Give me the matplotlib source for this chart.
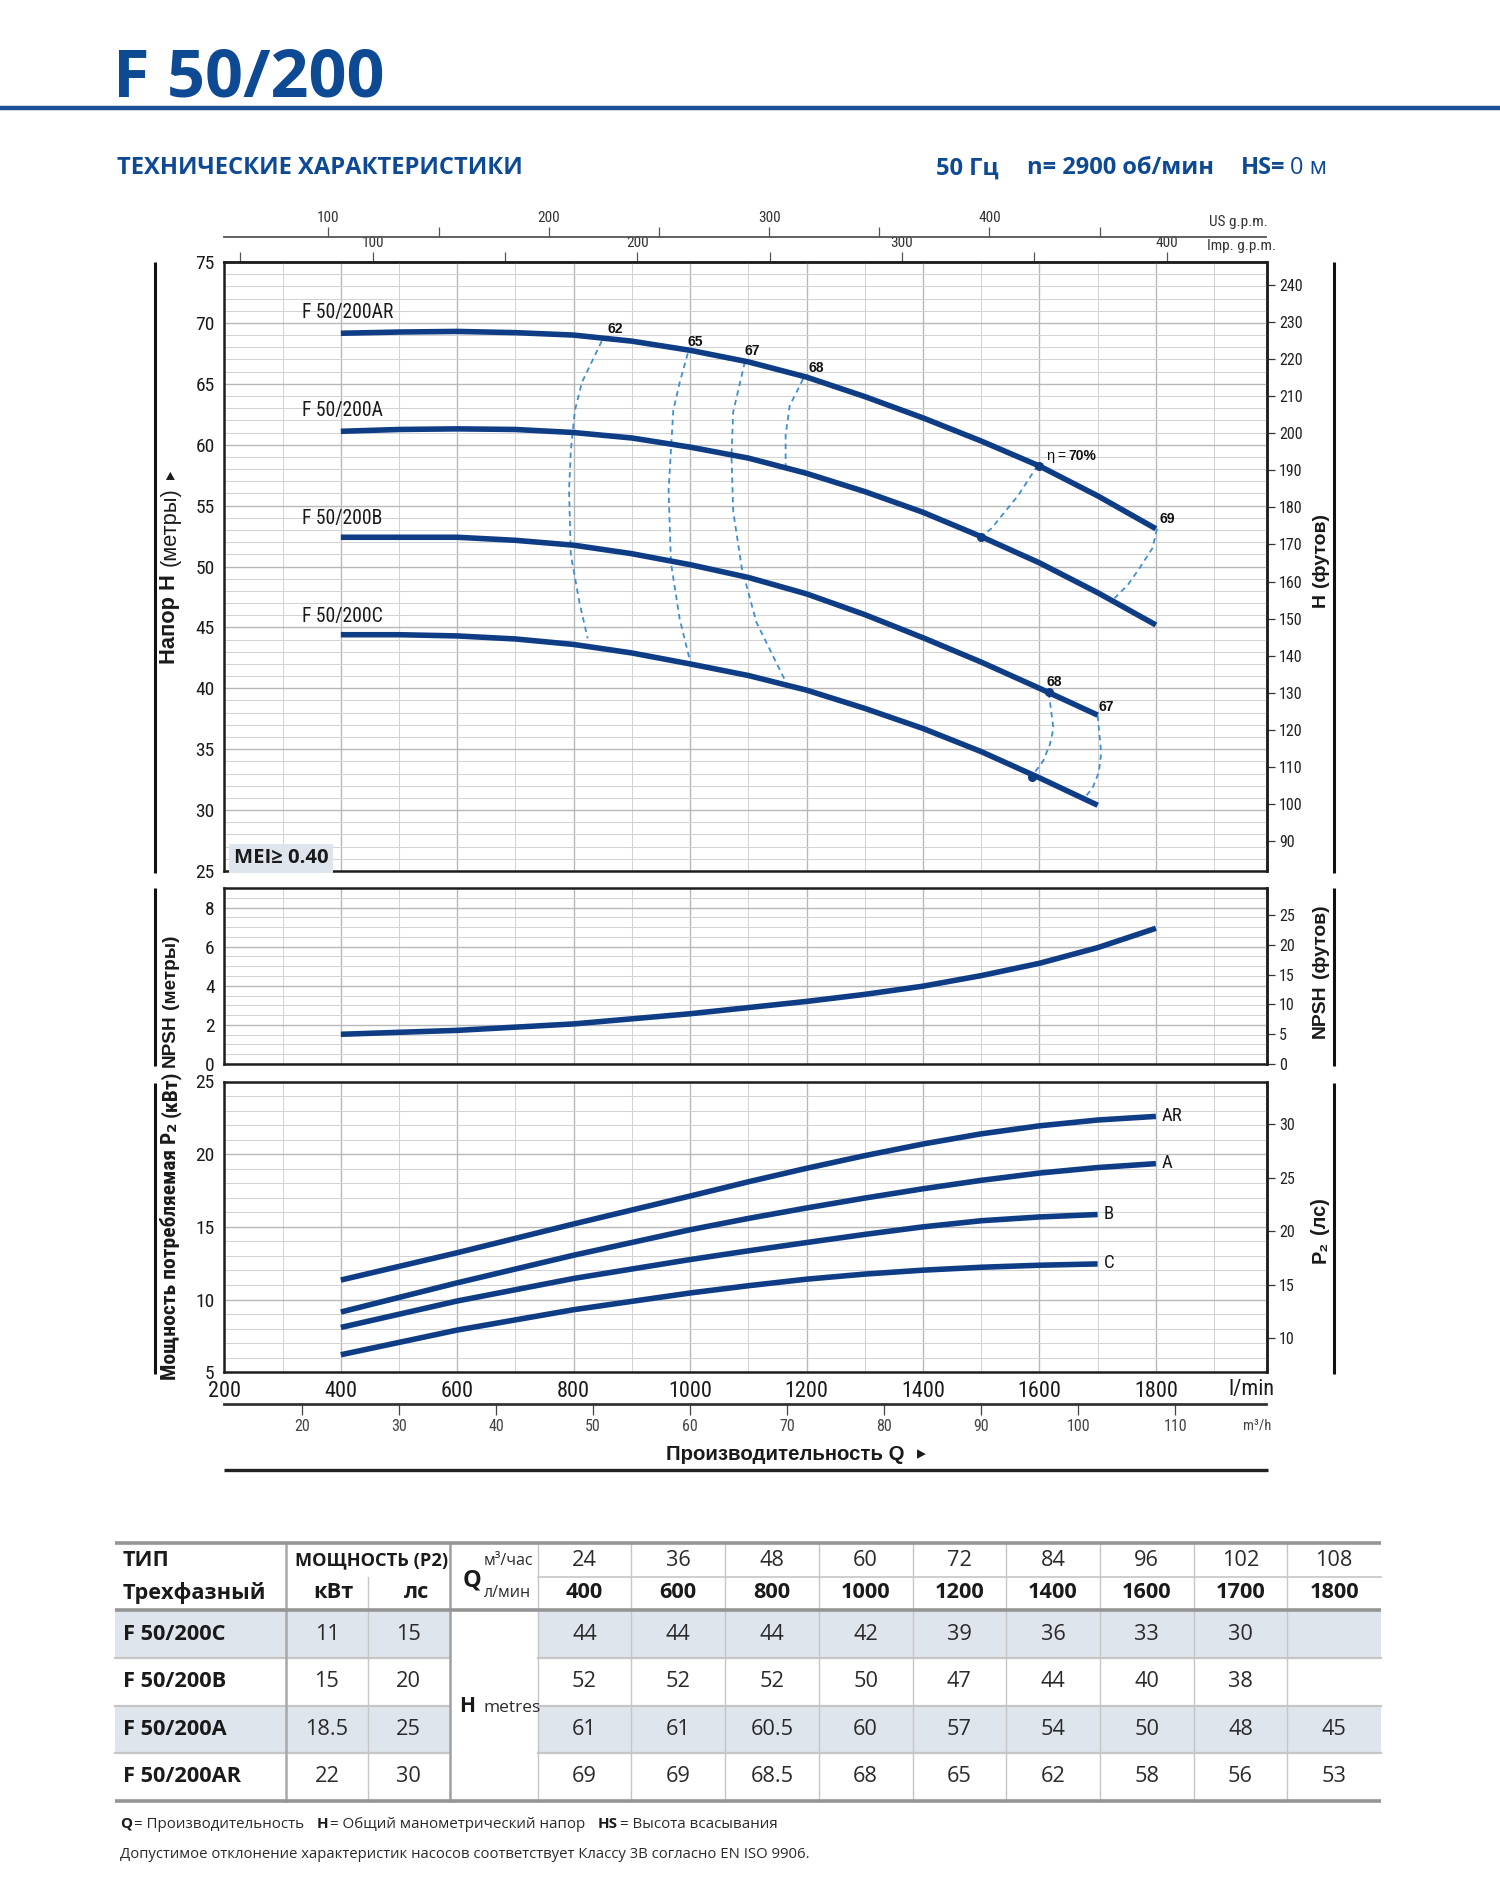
import os
import matplotlib
matplotlib.use("Agg")
import matplotlib.pyplot as plt
from matplotlib import font_manager as fm
from matplotlib.ticker import MultipleLocator, FixedLocator
from matplotlib.patches import Rectangle

# ---------------- data ----------------
q_head = [400, 500, 600, 700, 800, 900, 1000, 1100, 1200, 1300, 1400, 1500, 1600, 1700, 1800]
head_ar = [69.15, 69.25, 69.3, 69.2, 69.0, 68.5, 67.75, 66.8, 65.55, 63.95, 62.2, 60.3, 58.25, 55.8, 53.1]
head_a = [61.1, 61.25, 61.3, 61.25, 61.0, 60.55, 59.8, 58.9, 57.65, 56.15, 54.45, 52.45, 50.3, 47.85, 45.2]
q_head_bc = [400, 500, 600, 700, 800, 900, 1000, 1100, 1200, 1300, 1400, 1500, 1600, 1700]
head_b = [52.4, 52.4, 52.4, 52.15, 51.75, 51.05, 50.15, 49.1, 47.75, 46.05, 44.15, 42.15, 40.0, 37.8]
head_c = [44.4, 44.4, 44.3, 44.05, 43.6, 42.9, 42.0, 41.05, 39.85, 38.35, 36.7, 34.8, 32.65, 30.4]
curve_names = ["F 50/200AR", "F 50/200A", "F 50/200B", "F 50/200C"]
curve_name_h = [70.85, 62.8, 53.9, 45.9]

# iso-efficiency lines (Q l/min, H m)
eff62_q = [848, 814, 802, 795, 792, 795, 810, 824]
eff62_h = [68.5, 65.1, 62.8, 59.5, 56.25, 51.0, 47.0, 44.1]
eff65_q = [996, 982, 971, 963, 967, 982, 999]
eff65_h = [67.5, 65.1, 62.8, 56.25, 50.3, 45.7, 42.4]
eff67_q = [1094, 1074, 1071, 1074, 1089, 1114, 1163]
eff67_h = [66.8, 62.7, 59.1, 54.5, 49.8, 45.4, 40.65]
eff68_q = [1194, 1171, 1164, 1164]
eff68_h = [65.4, 63.2, 60.8, 58.2]
eff70_q = [1597, 1563, 1517, 1500]
eff70_h = [58.3, 55.8, 53.1, 52.45]
eff69_q = [1802, 1794, 1771, 1752, 1729]
eff69_h = [53.1, 51.5, 49.8, 48.5, 47.4]
eff68b_q = [1616, 1624, 1618, 1606, 1587]
eff68b_h = [39.64, 36.7, 35.4, 34.0, 32.8]
eff67b_q = [1700, 1706, 1702, 1691, 1679]
eff67b_h = [37.76, 34.7, 33.1, 31.8, 31.1]
mark_q = [1600, 1500, 1616, 1588]
mark_h = [58.25, 52.45, 39.7, 32.75]
eff_labels = ["62", "65", "67", "68", "68", "67"]
eff_label_q = [871, 1008, 1107, 1217, 1626, 1714]
eff_label_h = [69.5, 68.45, 67.67, 66.3, 40.5, 38.5]

q_npsh = [400, 600, 800, 1000, 1200, 1300, 1400, 1500, 1600, 1700, 1800]
npsh_m = [1.52, 1.72, 2.05, 2.57, 3.2, 3.56, 3.98, 4.52, 5.15, 5.95, 6.94]

q_pow = [400, 600, 800, 1000, 1100, 1200, 1300, 1400, 1500, 1600, 1700, 1800]
pow_ar = [11.34, 13.22, 15.2, 17.12, 18.1, 19.03, 19.9, 20.7, 21.4, 21.95, 22.35, 22.6]
pow_a = [9.14, 11.15, 13.05, 14.8, 15.58, 16.3, 16.98, 17.62, 18.2, 18.7, 19.08, 19.35]
q_pow_bc = [400, 600, 800, 1000, 1100, 1200, 1300, 1400, 1500, 1600, 1700]
pow_b = [8.08, 9.9, 11.45, 12.75, 13.35, 13.92, 14.48, 15.0, 15.42, 15.68, 15.85]
pow_c = [6.2, 7.9, 9.3, 10.45, 10.95, 11.4, 11.75, 12.02, 12.22, 12.36, 12.45]
pow_names = ["AR", "A", "B", "C"]

ft_ticks_h = [90, 100, 110, 120, 130, 140, 150, 160, 170, 180, 190, 200, 210, 220, 230, 240]
ft_ticks_npsh = [0, 5, 10, 15, 20, 25]
hp_ticks = [10, 15, 20, 25, 30]
us_major = [100, 200, 300, 400]
us_minor = [150, 250, 350, 450]
imp_major = [100, 200, 300, 400]
imp_minor = [50, 150, 250, 350]
m3h_ticks = [20, 30, 40, 50, 60, 70, 80, 90, 100, 110]

tbl_m3h = ["24", "36", "48", "60", "72", "84", "96", "102", "108"]
tbl_lpm = ["400", "600", "800", "1000", "1200", "1400", "1600", "1700", "1800"]
tbl_types = ["F 50/200C", "F 50/200B", "F 50/200A", "F 50/200AR"]
tbl_kw = ["11", "15", "18.5", "22"]
tbl_hp = ["15", "20", "25", "30"]
tbl_h = [
    ["44", "44", "44", "42", "39", "36", "33", "30", ""],
    ["52", "52", "52", "50", "47", "44", "40", "38", ""],
    ["61", "61", "60.5", "60", "57", "54", "50", "48", "45"],
    ["69", "69", "68.5", "68", "65", "62", "58", "56", "53"],
]


# ---------------- fonts ----------------
def find_condensed():
    prefs = ["Liberation Sans Narrow", "Roboto Condensed", "Open Sans Condensed", "Noto Sans Condensed",
             "Noto Sans", "DejaVu Sans", "Open Sans", "Roboto", "Inter", "Lato"]
    ents = [e for e in fm.fontManager.ttflist if e.style == "normal"]

    def cond(e):
        b = os.path.basename(e.fname).lower()
        n = e.name.lower()
        return ("narrow" in b or "condensed" in b or "narrow" in n or "condensed" in n
                or str(e.stretch) in ("condensed", "semi-condensed"))
    for p in prefs:
        es = [e for e in ents if e.name == p and cond(e)]
        es = [e for e in es if "extra" not in os.path.basename(e.fname).lower()
              and "ultra" not in os.path.basename(e.fname).lower()] or es
        if es:
            return p, str(es[0].stretch)
    return "Liberation Sans", "normal"


CNAME, CSTRETCH = find_condensed()
NARROW = [CNAME, "DejaVu Sans"]
plt.rcParams["font.family"] = NARROW
plt.rcParams["font.stretch"] = CSTRETCH
SANS = dict(family=["Liberation Sans", "DejaVu Sans"], stretch="normal")
OPEN = dict(family=["Open Sans", "DejaVu Sans"], stretch="normal")
COND = dict(family=NARROW, stretch=CSTRETCH)

TITLE = "#0d4a93"
CURVE = "#0e3d86"
DASH = "#3f8fd2"
GMIN = "#d3d3d3"
GMAJ = "#b8b8b8"
SPINE = "#1e1e1e"
SHADE = "#dfe5ec"
LW = 4.0

W, H = 1500, 1888
fig = plt.figure(figsize=(W / 100, H / 100), dpi=100)
fig.patch.set_facecolor("white")

# overlay axes in pixel coordinates (created first for measuring)
ov = fig.add_axes([0, 0, 1, 1])
ov.set_xlim(0, W)
ov.set_ylim(H, 0)
ov.axis("off")
ov.set_zorder(10)
ov.patch.set_visible(False)
R = fig.canvas.get_renderer()


def measure(s, **kw):
    t = ov.text(0, 0, s, **kw)
    w = t.get_window_extent(renderer=R).width
    t.remove()
    return w


def fitsize(s, kw, target, lo=0.6, hi=1.6):
    f = target / measure(s, **kw)
    f = max(lo, min(hi, f))
    return kw["size"] * f


def rich(x, y, parts, anchor="left", rot=0, va="center", target=None):
    if target is not None:
        tot0 = sum(measure(t, **kw) for t, kw, g in parts) + sum(g for _, _, g in parts[:-1])
        f = target / tot0
        parts = [(t, dict(kw, size=kw["size"] * f), g * f) for t, kw, g in parts]
    widths = [measure(t, **kw) for t, kw, g in parts]
    total = sum(widths) + sum(g for _, _, g in parts[:-1])
    fa = {"left": 0.0, "center": 0.5, "right": 1.0}[anchor]
    off = 0.0
    for (t, kw, g), w in zip(parts, widths):
        if rot == 0:
            ov.text(x - total * fa + off, y, t, ha="left", va=va, **kw)
        else:
            ov.text(x, y + total * fa - off, t, ha="left", va="center", rotation=90,
                    rotation_mode="anchor", **kw)
        off += w + g


TICK_L = 14
TICK_B = 16
TICK_S = 11.5
TICK_T = 11

X0, X1 = 224.4, 1266.5


def rect(top, bottom):
    return [X0 / W, 1 - bottom / H, (X1 - X0) / W, (bottom - top) / H]


def base_axes(top, bottom, ylim, ymaj, ymin):
    ax = fig.add_axes(rect(top, bottom))
    ax.set_xlim(200, 1990)
    ax.set_ylim(*ylim)
    ax.xaxis.set_major_locator(MultipleLocator(200))
    ax.xaxis.set_minor_locator(MultipleLocator(100))
    ax.yaxis.set_major_locator(MultipleLocator(ymaj))
    ax.yaxis.set_minor_locator(MultipleLocator(ymin))
    ax.grid(which="major", color=GMAJ, lw=1.0)
    ax.grid(which="minor", color=GMIN, lw=0.75)
    ax.set_axisbelow(True)
    ax.tick_params(which="both", length=0)
    ax.tick_params(axis="y", labelsize=TICK_L, pad=7, labelcolor="#1a1a1a")
    for s in ax.spines.values():
        s.set_linewidth(1.8)
        s.set_color(SPINE)
    return ax


def right_axis(ax, fwd, inv, ticks):
    sec = ax.secondary_yaxis("right", functions=(fwd, inv))
    sec.yaxis.set_major_locator(FixedLocator(ticks))
    sec.tick_params(length=6, width=0.9, color="#333", labelsize=TICK_S, pad=3, labelcolor="#222")
    sec.spines["right"].set_linewidth(1.8)
    sec.spines["right"].set_color(SPINE)
    return sec


# ---- head chart ----
ax_h = base_axes(262, 871, (25, 75), 5, 1)
ax_h.tick_params(axis="x", labelbottom=False)
for qq, hh in [(eff62_q, eff62_h), (eff65_q, eff65_h), (eff67_q, eff67_h), (eff68_q, eff68_h),
               (eff70_q, eff70_h), (eff69_q, eff69_h), (eff68b_q, eff68b_h), (eff67b_q, eff67b_h)]:
    ax_h.plot(qq, hh, color=DASH, lw=1.3, ls=(0, (3, 2.4)), zorder=2)
for qq, hh in [(q_head, head_ar), (q_head, head_a), (q_head_bc, head_b), (q_head_bc, head_c)]:
    ax_h.plot(qq, hh, color=CURVE, lw=LW, solid_capstyle="butt", solid_joinstyle="round", zorder=3)
ax_h.plot(mark_q, mark_h, "o", ms=5.5, color=CURVE, zorder=4)
name_size = fitsize("F 50/200AR", dict(COND, size=14), 92, 0.95, 1.1)
for name, hh in zip(curve_names, curve_name_h):
    ax_h.text(334, hh, name, size=name_size, color="#1a1a1a", ha="left", va="center", **COND)
for lab, qq, hh in zip(eff_labels, eff_label_q, eff_label_h):
    ax_h.text(qq, hh, lab, weight="bold", size=10, color="#111", ha="center", va="center", **SANS)
ax_h.text(1806, 53.9, "69", weight="bold", size=10, color="#111", ha="left", va="center", **SANS)
mei_size = fitsize("MEI≥ 0.40", dict(OPEN, weight="bold", size=14), 95)
ax_h.text(216, 26.05, "MEI≥ 0.40", weight="bold", size=mei_size, color="#1a1a1a",
          ha="left", va="center", bbox=dict(boxstyle="square,pad=0.22", fc=SHADE, ec="none"), **OPEN)

right_axis(ax_h, lambda m: m / 0.3048, lambda f: f * 0.3048, ft_ticks_h)

imp = ax_h.secondary_xaxis("top", functions=(lambda q: q / 4.54609, lambda g: g * 4.54609))
imp.xaxis.set_major_locator(FixedLocator(imp_major))
imp.xaxis.set_minor_locator(FixedLocator(imp_minor))
imp.tick_params(which="both", direction="out", length=7, width=0.9, color="#555",
                labelsize=TICK_T, pad=1.5, labelcolor="#333")
imp.spines["top"].set_linewidth(1.8)
imp.spines["top"].set_color(SPINE)

us = ax_h.secondary_xaxis(1.041, functions=(lambda q: q / 3.785411784, lambda g: g * 3.785411784))
us.xaxis.set_major_locator(FixedLocator(us_major))
us.xaxis.set_minor_locator(FixedLocator(us_minor))
us.tick_params(which="both", direction="out", length=7, width=0.9, color="#555",
               labelsize=TICK_T, pad=1.5, labelcolor="#333")
us.spines["top"].set_linewidth(1.3)
us.spines["top"].set_color("#555")

# ---- NPSH chart ----
ax_n = base_axes(888, 1064, (0, 9), 2, 0.5)
ax_n.tick_params(axis="x", labelbottom=False)
ax_n.plot(q_npsh, npsh_m, color=CURVE, lw=LW, solid_capstyle="butt", solid_joinstyle="round", zorder=3)
right_axis(ax_n, lambda m: m / 0.3048, lambda f: f * 0.3048, ft_ticks_npsh)

# ---- power chart ----
ax_p = base_axes(1081.5, 1372.2, (5, 25), 5, 1)
ax_p.tick_params(axis="x", labelsize=TICK_B, pad=6, labelcolor="#1a1a1a")
for qq, pp in [(q_pow, pow_ar), (q_pow, pow_a), (q_pow_bc, pow_b), (q_pow_bc, pow_c)]:
    ax_p.plot(qq, pp, color=CURVE, lw=LW, solid_capstyle="butt", solid_joinstyle="round", zorder=3)
for name, qq, pp in zip(pow_names, [q_pow, q_pow, q_pow_bc, q_pow_bc], [pow_ar, pow_a, pow_b, pow_c]):
    ax_p.text(qq[-1] + 10, pp[-1] + 0.05, name, size=13.5, color="#1a1a1a", ha="left", va="center")
right_axis(ax_p, lambda k: k / 0.7355, lambda hp: hp * 0.7355, hp_ticks)

m3 = ax_p.secondary_xaxis(-0.1094, functions=(lambda q: q * 0.06, lambda m: m / 0.06))
m3.xaxis.set_major_locator(FixedLocator(m3h_ticks))
m3.tick_params(direction="out", length=8, width=0.9, color="#444", labelsize=11.5, pad=3, labelcolor="#444")
m3.spines["bottom"].set_linewidth(2.0)
m3.spines["bottom"].set_color("#333")


def to_px(ax, x, y):
    d = ax.transData.transform((x, y))
    return ov.transData.inverted().transform(d)


# η = 70% label
ex, ey = to_px(ax_h, 1611, 59.05)
rich(ex, ey, [("η", dict(SANS, size=10.5, color="#111"), 3), ("=", dict(SANS, size=10, color="#111"), 3),
              ("70%", dict(SANS, weight="bold", size=10, color="#111"), 0)])

# ---------------- header ----------------
ov.text(113, 96.5, "F 50/200", weight="bold", size=48, color=TITLE, va="baseline", **OPEN)
ov.plot([0, W], [108, 108], color="#1d5196", lw=3.2, solid_capstyle="butt")
tk = dict(OPEN, weight="bold", size=16, color=TITLE)
ov.text(117, 168.5, "ТЕХНИЧЕСКИЕ ХАРАКТЕРИСТИКИ", va="center",
        **dict(tk, size=fitsize("ТЕХНИЧЕСКИЕ ХАРАКТЕРИСТИКИ", tk, 407)))
hb = dict(OPEN, weight="bold", size=16, color=TITLE)
hn = dict(OPEN, size=16, color=TITLE)
rich(1327, 168.5, [("50 Гц", hb, 26), ("n= 2900 об/мин", hb, 26), ("HS=", hb, 4), ("0 м", hn, 0)],
     anchor="right", target=392)

# side frame lines
for top, bot in [(262, 873), (888, 1066), (1083, 1374)]:
    ov.plot([155, 155], [top, bot], color="#111", lw=2.2, solid_capstyle="butt")
    ov.plot([1333.5, 1333.5], [top, bot], color="#111", lw=2.2, solid_capstyle="butt")

# top axis names
ov.text(1268, 222, "US g.p.m.", size=TICK_T, color="#333", ha="right", va="center")
ov.text(1276, 246, "Imp. g.p.m.", size=TICK_T, color="#333", ha="right", va="center")

# bottom axis names
ov.text(1251, 1389, "l/min", size=TICK_B, color="#1a1a1a", ha="center", va="center")
ov.text(1257, 1425, "m³/h", size=10.5, color="#444", ha="center", va="center")
rich(905, 1454, [("Производительность Q", dict(SANS, weight="bold", size=14, color="#1a1a1a"), 0)],
     anchor="right", target=239)
ov.text(921, 1454, "▸", family=["DejaVu Sans"], size=14, color="#1a1a1a", ha="center", va="center")
ov.plot([X0, 1268], [1470, 1470], color="#222", lw=2.4, solid_capstyle="butt")

# vertical axis titles
lb = dict(SANS, weight="bold", size=14.5, color="#1a1a1a")
ln = dict(SANS, size=14.5, color="#1a1a1a")
rich(170, 567, [("Напор H", lb, 7), ("(метры)", ln, 8),
                ("▸", dict(family=["DejaVu Sans"], size=12, color="#1a1a1a"), 0)],
     anchor="center", rot=90, target=193)
nb = dict(SANS, weight="bold", size=14, color="#1a1a1a")
cb = dict(COND, weight="bold", size=15, color="#1a1a1a")
rich(170, 1001, [("NPSH", nb, 6), ("(метры)", nb, 0)], anchor="center", rot=90, target=133)
rich(170, 1225, [("Мощность потребляемая P", cb, 0), ("₂", dict(cb, family=["DejaVu Sans"], stretch="normal"), 5),
                 ("(кВт)", cb, 0)], anchor="center", rot=90, target=309)
rich(1320, 560, [("H", nb, 6), ("(футов)", nb, 0)], anchor="center", rot=90, target=94)
rich(1320, 971, [("NPSH", nb, 6), ("(футов)", nb, 0)], anchor="center", rot=90, target=134)
rich(1320, 1230, [("P₂", nb, 6), ("(лс)", nb, 0)], anchor="center", rot=90, target=65)

# ---------------- table ----------------
TL, TR = 115, 1381
c_type, c_kw, c_hp, c_q, c_v0 = 286, 368, 449.5, 537.7, 537.7
cw = (TR - c_v0) / 9
vcols = [c_v0 + i * cw for i in range(10)]
rows = [1610, 1658, 1705.7, 1753, 1800.7]

for i in (0, 2):
    ov.add_patch(Rectangle((TL, rows[i]), c_hp - TL, rows[i + 1] - rows[i], fc=SHADE, ec="none", zorder=1))
    ov.add_patch(Rectangle((c_q, rows[i]), TR - c_q, rows[i + 1] - rows[i], fc=SHADE, ec="none", zorder=1))

LIGHT = "#c6c6c6"
for y in rows[1:4]:
    ov.plot([TL, c_hp], [y, y], color=LIGHT, lw=1.6, zorder=2)
    ov.plot([c_q, TR], [y, y], color=LIGHT, lw=1.6, zorder=2)
ov.plot([c_q, TR], [1576.7, 1576.7], color=LIGHT, lw=1.2, zorder=2)
for x in vcols[1:-1]:
    ov.plot([x, x], [1542.7, 1800.7], color=LIGHT, lw=1.0, zorder=2)
ov.plot([c_q, c_q], [1542.7, 1800.7], color=LIGHT, lw=1.0, zorder=2)
ov.plot([c_kw, c_kw], [1576.7, 1800.7], color=LIGHT, lw=1.0, zorder=2)
ov.plot([c_type, c_type], [1542.7, 1800.7], color="#a8a8a8", lw=1.8, zorder=2)
ov.plot([c_hp, c_hp], [1542.7, 1800.7], color="#a0a0a0", lw=1.8, zorder=2)
for y in (1542.7, 1610, 1800.7):
    ov.plot([TL, TR], [y, y], color="#959595", lw=2.6, zorder=3, solid_capstyle="butt")

tb0 = dict(OPEN, weight="bold", size=13.5, color="#1a1a1a")
TS = fitsize("F 50/200AR", tb0, 118, 0.8, 1.3)
tb = dict(tb0, size=TS)
tn = dict(OPEN, size=TS, color="#2a2a2a")
ov.text(123, 1560.7, "ТИП", ha="left", va="center", **tb)
ov.text(123, 1593, "Трехфазный", ha="left", va="center", **tb)
pw = dict(OPEN, weight="bold", size=13, color="#1a1a1a")
ov.text(372, 1560.7, "МОЩНОСТЬ (P2)", ha="center", va="center",
        **dict(pw, size=fitsize("МОЩНОСТЬ (P2)", pw, 153)))
ov.text(333, 1593, "кВт", ha="center", va="center", **tb)
ov.text(417, 1593, "лс", ha="center", va="center", **tb)
ov.text(472, 1580, "Q", ha="center", va="center", **dict(OPEN, weight="bold", size=17, color="#1a1a1a"))
ov.text(508, 1560.7, "м³/час", ha="center", va="center", **dict(OPEN, size=11.5, color="#2a2a2a"))
ov.text(508, 1593, "л/мин", ha="center", va="center", **dict(OPEN, size=11.5, color="#2a2a2a"))
ov.text(467, 1706, "H", ha="center", va="center", **dict(OPEN, weight="bold", size=15, color="#1a1a1a"))
ov.text(512, 1708, "metres", ha="center", va="center", **dict(OPEN, size=12.5, color="#2a2a2a"))
for j in range(9):
    xc = (vcols[j] + vcols[j + 1]) / 2
    ov.text(xc, 1560.7, tbl_m3h[j], ha="center", va="center", **tn)
    ov.text(xc, 1593, tbl_lpm[j], ha="center", va="center", **tb)
for i in range(4):
    yc = (rows[i] + rows[i + 1]) / 2
    ov.text(123, yc, tbl_types[i], ha="left", va="center", **tb)
    ov.text((c_type + c_kw) / 2, yc, tbl_kw[i], ha="center", va="center", **tn)
    ov.text((c_kw + c_hp) / 2, yc, tbl_hp[i], ha="center", va="center", **tn)
    for j in range(9):
        xc = (vcols[j] + vcols[j + 1]) / 2
        ov.text(xc, yc, tbl_h[i][j], ha="center", va="center", **tn)

fb = dict(OPEN, weight="bold", size=10.5, color="#1a1a1a")
fn = dict(OPEN, size=10.5, color="#2a2a2a")
rich(120, 1824, [("Q", fb, 2), ("= Производительность", fn, 12), ("H", fb, 2),
                 ("= Общий манометрический напор", fn, 12), ("HS", fb, 2), ("= Высота всасывания", fn, 0)],
     target=658)
note = "Допустимое отклонение характеристик насосов соответствует Классу 3В согласно EN ISO 9906."
ov.text(120, 1855, note, ha="left", va="center", **dict(fn, size=fitsize(note, fn, 694)))

fig.savefig("out.png", dpi=100, facecolor="white")
